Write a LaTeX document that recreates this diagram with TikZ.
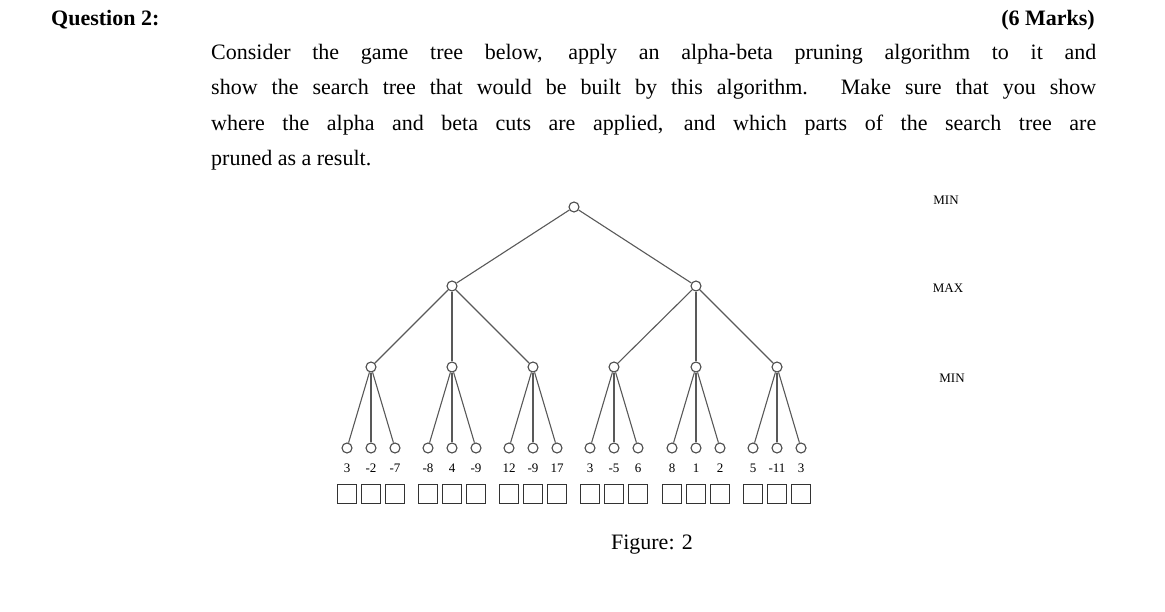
\documentclass[tikz,border=0pt]{standalone}
\usepackage{fontspec}
\setmainfont{Liberation Serif}
\begin{document}
\begin{tikzpicture}[x=1pt,y=-1pt,
  nd/.style={circle,draw=black!70,line width=1.1pt,minimum size=10pt,inner sep=0pt,fill=white},
  sq/.style={draw=black!80,line width=1.1pt,minimum size=19pt,inner sep=0pt},
  ed/.style={draw=black!65,line width=1.1pt},
  val/.style={font=\fontsize{13}{15}\selectfont},
  lvl/.style={font=\fontsize{13}{15}\selectfont},
  body/.style={anchor=west,inner sep=0pt,font=\fontsize{22}{26}\selectfont}]
\useasboundingbox (0,0) rectangle (1165,612);
\node[anchor=west,inner sep=0pt,font=\bfseries\fontsize{22}{26}\selectfont] (q) at (51,20) {Question 2:};
\node[anchor=east,inner sep=0pt,font=\bfseries\fontsize{22}{26}\selectfont] (m) at (1095,20) {(6 Marks)};
\node[body] (l1) at (211,54) {\makebox[885pt][s]{Consider the game tree below, apply an alpha-beta pruning algorithm to it and}};
\node[body] (l2) at (211,89) {\makebox[885pt][s]{show the search tree that would be built by this algorithm. Make sure that you show}};
\node[body] (l3) at (211,125) {\makebox[885pt][s]{where the alpha and beta cuts are applied, and which parts of the search tree are}};
\node[body] (l4) at (211,160) {pruned as a result.};
\node[nd] (r) at (574,207) {};
\node[nd] (a1) at (452,286) {};
\node[nd] (a2) at (696,286) {};
\draw[ed] (r) -- (a1); \draw[ed] (r) -- (a2);
\foreach \i/\x/\p in {1/371/a1,2/452/a1,3/533/a1,4/614/a2,5/696/a2,6/777/a2}{
  \node[nd] (b\i) at (\x,367) {};
  \draw[ed] (\p) -- (b\i);
}
\foreach \i/\va/\vb/\vc in {1/3/-2/-7,2/-8/4/-9,3/12/-9/17,4/3/-5/6,5/8/1/2,6/5/-11/3}{
  \foreach \k/\dx/\v in {1/-24/\va,2/0/\vb,3/24/\vc}{
    \path (b\i) ++(\dx,81) node[nd] (c\i\k) {};
    \draw[ed] (b\i) -- (c\i\k);
    \path (b\i) ++(\dx,101) node[val] (v\i\k) {\v};
    \path (b\i) ++(\dx,127) node[sq] (s\i\k) {};
  }
}
\node[lvl] (t1) at (946,200) {MIN};
\node[lvl] (t2) at (948,288) {MAX};
\node[lvl] (t3) at (952,378) {MIN};
\node[font=\fontsize{22}{26}\selectfont] (fig) at (652,545) {Figure: 2};
\end{tikzpicture}
\end{document}
